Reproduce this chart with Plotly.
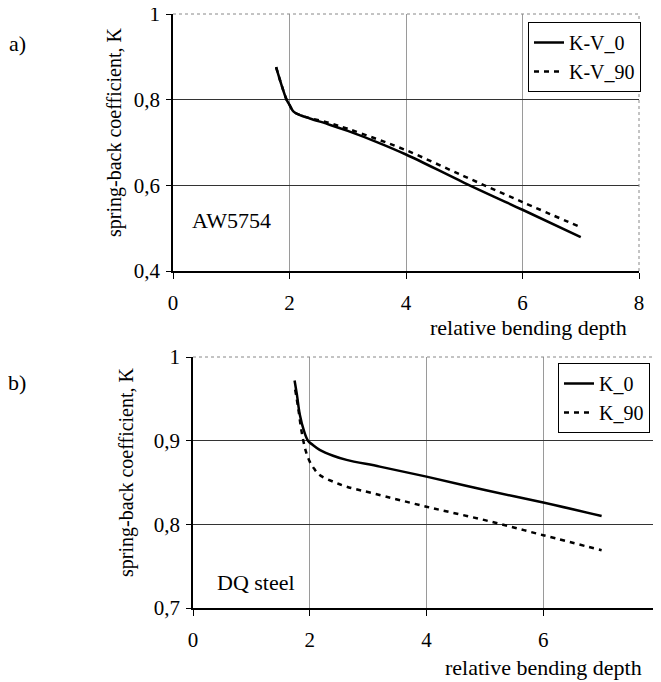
import plotly.graph_objects as go

# ---- data ----
x_a0 = [1.77, 1.85, 1.95, 2.0, 2.07, 2.2, 2.35, 2.7, 3.0, 3.5, 4.0, 5.0, 6.0, 7.0]
y_a0 = [0.876, 0.84, 0.80, 0.788, 0.772, 0.763, 0.756, 0.741, 0.727, 0.701, 0.672, 0.606, 0.543, 0.479]
x_a90 = [1.77, 1.85, 1.95, 2.0, 2.07, 2.2, 2.35, 2.7, 3.0, 3.5, 4.0, 5.0, 6.0, 7.0]
y_a90 = [0.876, 0.84, 0.80, 0.788, 0.772, 0.763, 0.757, 0.745, 0.732, 0.708, 0.682, 0.621, 0.561, 0.502]

x_b0 = [1.74, 1.78, 1.83, 1.9, 1.97, 2.05, 2.17, 2.4, 2.63, 3.2, 4.0, 5.0, 6.0, 7.0]
y_b0 = [0.972, 0.955, 0.931, 0.912, 0.900, 0.895, 0.889, 0.882, 0.877, 0.869, 0.857, 0.841, 0.826, 0.810]
x_b90 = [1.75, 1.8, 1.86, 1.93, 2.0, 2.08, 2.17, 2.4, 2.63, 3.09, 4.0, 5.0, 6.0, 7.0]
y_b90 = [0.961, 0.94, 0.911, 0.888, 0.875, 0.866, 0.859, 0.851, 0.845, 0.837, 0.821, 0.805, 0.787, 0.769]

x_ticks = [0, 2, 4, 6, 8]
x_ticktext = ["0", "2", "4", "6", "8"]
ya_ticks = [0.4, 0.6, 0.8, 1.0]
ya_ticktext = ["0,4", "0,6", "0,8", "1"]
yb_ticks = [0.7, 0.8, 0.9, 1.0]
yb_ticktext = ["0,7", "0,8", "0,9", "1"]

names_a = ["K-V_0", "K-V_90"]
names_b = ["K_0", "K_90"]

FONT = "Times New Roman"
FS_TICK = 21
FS_TXT = 22
FS_YT = 20
FS_LEG = 20

# the page body has an 8px margin: figure is drawn 8px right/down
OFF = 8
FW, FH = 653, 674

def xp(px):
    return (px - OFF) / FW

def yp(py):
    return 1 - (py - OFF) / FH

fig = go.Figure()
solid = dict(color="black", width=2.5)
dashed = dict(color="black", width=2.5, dash="5px,5px")

fig.add_trace(go.Scatter(x=x_a0, y=y_a0, mode="lines", line=dict(**solid, shape="spline"),
                         name=names_a[0], xaxis="x", yaxis="y", legend="legend"))
fig.add_trace(go.Scatter(x=x_a90, y=y_a90, mode="lines", line=dict(**dashed, shape="spline"),
                         name=names_a[1], xaxis="x", yaxis="y", legend="legend"))
fig.add_trace(go.Scatter(x=x_b0, y=y_b0, mode="lines", line=dict(**solid, shape="spline"),
                         name=names_b[0], xaxis="x2", yaxis="y2", legend="legend2"))
fig.add_trace(go.Scatter(x=x_b90, y=y_b90, mode="lines", line=dict(**dashed, shape="spline"),
                         name=names_b[1], xaxis="x2", yaxis="y2", legend="legend2"))

def xax(domain, anchor):
    return dict(domain=domain, anchor=anchor, range=[0, 8], tickvals=x_ticks, ticktext=x_ticktext,
                showgrid=True, gridcolor="#9a9a9a", gridwidth=1, zeroline=False,
                showline=True, linecolor="black", linewidth=1.5, automargin=False,
                ticks="outside", ticklen=6, tickcolor="black", ticklabeloverflow="allow",
                ticklabelstandoff=6, tickfont=dict(family=FONT, size=FS_TICK, color="black"))

def yax(domain, anchor, rng, tv, tt):
    return dict(domain=domain, anchor=anchor, range=rng, tickvals=tv, ticktext=tt,
                showgrid=True, gridcolor="#333333", gridwidth=1, zeroline=False,
                showline=True, linecolor="black", linewidth=1.5, automargin=False,
                ticks="outside", ticklen=5, tickcolor="black", ticklabeloverflow="allow",
                ticklabelstandoff=2, tickfont=dict(family=FONT, size=FS_TICK, color="black"))

xa_dom = [xp(173), xp(639)]
ya_dom = [yp(271), yp(14)]
xb_dom = [xp(193), xp(660)]
yb_dom = [yp(608), yp(357)]

fig.update_layout(
    width=FW, height=FH,
    margin=dict(l=0, r=0, t=0, b=0, autoexpand=False),
    paper_bgcolor="white", plot_bgcolor="white",
    font=dict(family=FONT, size=FS_TXT, color="black"),
    xaxis=xax(xa_dom, "y"),
    yaxis=yax(ya_dom, "x", [0.4, 1.0], ya_ticks, ya_ticktext),
    xaxis2=xax(xb_dom, "y2"),
    yaxis2=yax(yb_dom, "x2", [0.7, 1.0], yb_ticks, yb_ticktext),
    legend=dict(x=xp(528), y=yp(22), xanchor="left", yanchor="top",
                bgcolor="white", bordercolor="black", borderwidth=1,
                font=dict(family=FONT, size=FS_LEG), itemwidth=30, tracegroupgap=0),
    legend2=dict(x=xp(558), y=yp(363), xanchor="left", yanchor="top",
                 bgcolor="white", bordercolor="black", borderwidth=1,
                 font=dict(family=FONT, size=FS_LEG), itemwidth=30, tracegroupgap=0),
    showlegend=True,
)

# dotted top/right frame
for xr, yr in (("x domain", "y domain"), ("x2 domain", "y2 domain")):
    fig.add_shape(type="line", xref=xr, yref=yr, x0=0, x1=1, y0=1, y1=1,
                  line=dict(color="#888888", width=1, dash="dot"))
    fig.add_shape(type="line", xref=xr, yref=yr, x0=1, x1=1, y0=0, y1=1,
                  line=dict(color="#888888", width=1, dash="dot"))

def note(text, x, y, xref="paper", yref="paper", angle=0, size=FS_TXT):
    return dict(text=text, x=x, y=y, xref=xref, yref=yref, showarrow=False, textangle=angle,
                xanchor="center", yanchor="middle", font=dict(family=FONT, size=size, color="black"))

ann = [
    note("a)", xp(17), yp(44)),
    note("b)", xp(17), yp(383)),
    note("spring-back coefficient, K", xp(114), yp(132), angle=-90, size=FS_YT),
    note("spring-back coefficient, K", xp(126), yp(472), angle=-90, size=FS_YT),
    note("relative bending depth", xp(528), yp(327)),
    note("relative bending depth", xp(543), yp(667)),
    note("AW5754", 1.01, 0.519, "x", "y"),
    note("DQ steel", 1.08, 0.731, "x2", "y2"),
]
fig.update_layout(annotations=ann)

fig.write_html("out.html")
